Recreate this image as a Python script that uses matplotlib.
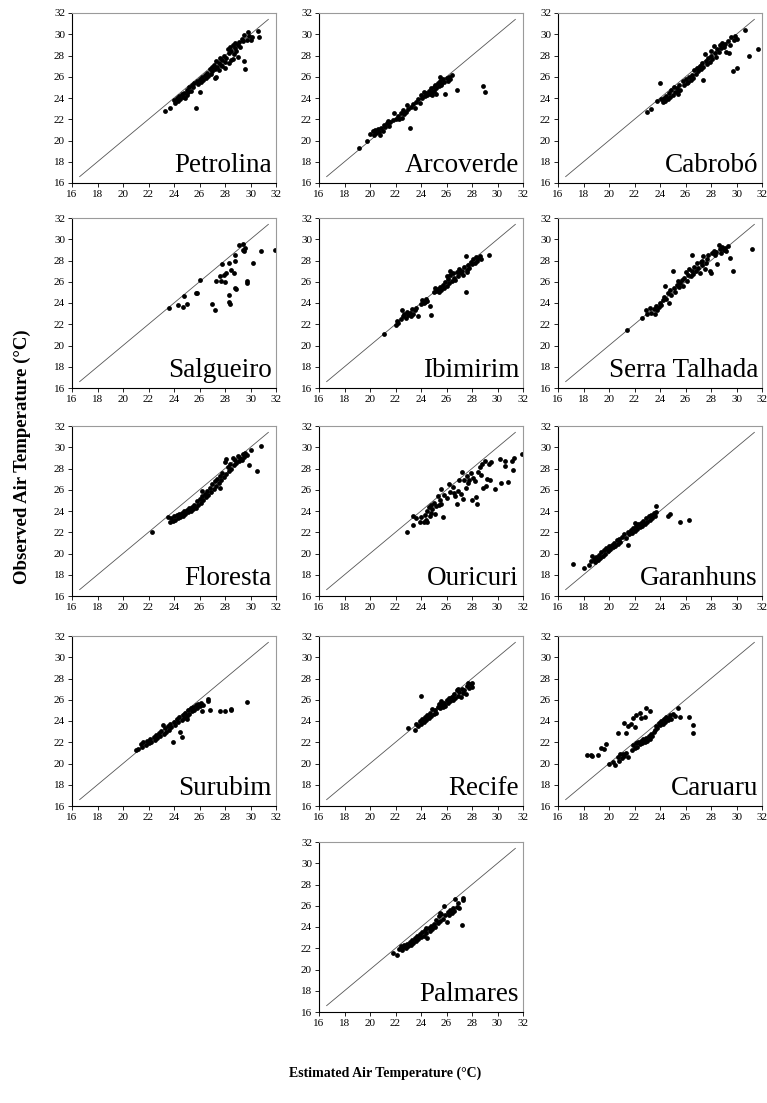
import matplotlib.pyplot as plt

plt.switch_backend('Agg')
plt.rcParams['font.family'] = ['Liberation Serif', 'DejaVu Serif']

# estimated (x) vs observed (y) air temperature
pet_est = [23.3, 23.7, 24.0, 24.1, 24.2, 24.3, 24.4, 24.5, 24.6, 24.7,
           24.8, 24.9, 25.0, 25.0, 25.1, 25.2, 25.3, 25.4, 25.5, 25.6,
           25.7, 25.8, 25.9, 26.0, 26.0, 26.1, 26.2, 26.3, 26.4, 26.5,
           26.6, 26.7, 26.8, 26.9, 27.0, 27.0, 27.1, 27.2, 27.2, 27.3,
           27.4, 27.5, 27.5, 27.6, 27.7, 27.8, 27.8, 27.9, 28.0, 28.0,
           28.1, 28.2, 28.3, 28.3, 28.4, 28.5, 28.5, 28.6, 28.7, 28.8,
           28.8, 28.9, 29.0, 29.0, 29.1, 29.2, 29.3, 29.4, 29.5, 29.6,
           29.5, 29.7, 29.8, 30.0, 30.1, 30.6, 30.7, 29.9, 28.6, 27.3]
pet_obs = [22.8, 23.1, 23.8, 23.5, 24.0, 23.7, 24.2, 23.9, 24.4, 24.1,
           24.5, 24.0, 24.8, 24.3, 24.6, 25.0, 24.7, 25.2, 25.0, 25.4,
           23.1, 25.6, 25.3, 24.6, 25.8, 25.5, 26.0, 25.7, 26.2, 25.9,
           26.4, 26.1, 26.7, 26.3, 26.9, 26.5, 27.1, 25.9, 26.7, 27.5,
           26.9, 27.3, 26.6, 27.8, 27.1, 27.6, 27.0, 28.0, 27.4, 26.8,
           27.8, 28.6, 27.3, 28.2, 28.8, 27.6, 28.4, 29.0, 28.1, 28.7,
           29.2, 28.4, 29.0, 27.9, 29.3, 28.8, 29.6, 29.4, 27.5, 26.7,
           29.9, 29.5, 30.2, 29.5, 29.7, 30.3, 29.7, 29.8, 27.7, 26.0]

arc_est = [19.1, 19.8, 20.0, 20.2, 20.3, 20.4, 20.5, 20.6, 20.7, 20.8,
           20.9, 21.0, 21.1, 21.2, 21.3, 21.5, 21.6, 21.8, 21.9, 22.0,
           22.2, 22.3, 22.4, 22.5, 22.6, 22.7, 22.9, 23.0, 23.1, 23.2,
           23.4, 23.5, 23.6, 23.8, 23.9, 24.0, 24.1, 24.2, 24.3, 24.4,
           24.5, 24.6, 24.7, 24.8, 24.9, 25.0, 25.0, 25.1, 25.2, 25.3,
           25.4, 25.5, 25.5, 25.6, 25.7, 25.8, 25.9, 26.0, 26.1, 26.2,
           26.4, 26.3, 26.8, 28.9, 29.0, 25.2, 24.9, 21.4, 22.8, 25.6]
arc_obs = [19.3, 20.0, 20.6, 20.9, 20.5, 21.0, 20.7, 21.1, 20.8, 20.5,
           21.2, 20.9, 21.5, 21.3, 21.6, 21.4, 21.7, 21.9, 22.6, 22.0,
           22.3, 22.0, 22.6, 22.1, 22.9, 22.5, 23.3, 23.0, 21.2, 23.2,
           23.4, 23.1, 23.6, 23.9, 23.5, 24.3, 24.0, 24.6, 24.2, 24.5,
           24.3, 24.7, 24.4, 24.9, 24.6, 25.0, 24.7, 25.2, 24.9, 25.4,
           25.1, 25.6, 26.0, 25.3, 25.8, 25.5, 24.4, 25.9, 25.6, 26.0,
           26.2, 25.8, 24.8, 25.1, 24.6, 24.4, 24.3, 21.8, 22.7, 25.2]

cab_est = [23.0, 23.3, 23.8, 24.0, 24.1, 24.2, 24.3, 24.4, 24.5, 24.6,
           24.7, 24.8, 24.9, 25.0, 25.1, 25.2, 25.3, 25.4, 25.5, 25.6,
           25.8, 25.9, 26.0, 26.2, 26.3, 26.4, 26.5, 26.6, 26.7, 26.8,
           26.9, 27.0, 27.1, 27.2, 27.3, 27.4, 27.4, 27.5, 27.6, 27.7,
           27.8, 27.9, 28.0, 28.1, 28.2, 28.3, 28.4, 28.5, 28.6, 28.7,
           28.8, 28.9, 29.0, 29.1, 29.2, 29.3, 29.5, 29.6, 29.7, 29.8,
           29.9, 30.0, 30.0, 30.7, 31.0, 31.7, 29.4, 28.0, 25.4, 26.1]
cab_obs = [22.7, 23.0, 23.7, 25.4, 23.9, 23.6, 24.0, 23.7, 24.2, 23.9,
           24.5, 24.1, 24.8, 24.3, 25.0, 24.6, 24.9, 24.4, 25.2, 24.8,
           25.6, 25.2, 25.8, 25.5, 26.0, 25.7, 26.2, 25.9, 26.6, 26.3,
           26.8, 26.5, 27.0, 26.7, 27.3, 25.7, 26.9, 28.1, 27.5, 27.2,
           27.8, 27.4, 28.0, 27.7, 28.9, 28.2, 27.9, 28.6, 28.3, 29.0,
           28.7, 29.2, 28.8, 29.1, 28.3, 29.4, 29.0, 29.7, 26.5, 29.5,
           29.8, 29.6, 26.8, 30.4, 28.0, 28.6, 28.2, 28.4, 24.7, 25.4]

sal_est = [23.6, 24.3, 24.7, 24.8, 25.0, 25.7, 25.8, 26.05, 27.0, 27.2,
           27.3, 27.6, 27.7, 27.8, 27.9, 28.0, 28.1, 28.3, 28.3, 28.4,
           28.35, 28.5, 28.7, 28.8, 28.8, 28.8, 28.85, 29.1, 29.4, 29.4,
           29.6, 29.7, 29.7, 30.2, 30.8, 31.9, 29.5]
sal_obs = [23.5, 23.8, 23.6, 24.7, 23.9, 24.9, 24.9, 26.2, 23.9, 23.3,
           26.1, 26.5, 26.1, 27.7, 26.6, 26.0, 26.8, 27.8, 24.8, 23.9,
           24.1, 27.1, 26.8, 28.5, 28.0, 25.4, 25.3, 29.5, 29.0, 29.6,
           29.2, 26.1, 25.9, 27.8, 28.9, 29.0, 28.9]

ibi_est = [21.1, 22.0, 22.1, 22.2, 22.4, 22.5, 22.6, 22.7, 22.8, 22.9,
           23.0, 23.1, 23.2, 23.3, 23.4, 23.5, 23.6, 23.8, 24.0, 24.1,
           24.2, 24.4, 24.5, 24.7, 24.8, 25.0, 25.1, 25.2, 25.3, 25.5,
           25.6, 25.7, 25.8, 25.9, 26.0, 26.1, 26.2, 26.3, 26.4, 26.5,
           26.6, 26.7, 26.8, 26.9, 27.0, 27.1, 27.2, 27.3, 27.4, 27.5,
           27.5, 27.6, 27.7, 27.8, 27.9, 28.0, 28.1, 28.2, 28.3, 28.4,
           28.5, 28.6, 29.3, 26.3, 26.0, 27.0, 25.4, 24.3, 28.7, 27.6]
ibi_obs = [21.1, 21.9, 22.3, 22.1, 22.5, 23.3, 22.8, 23.0, 22.6, 23.2,
           22.9, 23.1, 22.8, 23.4, 23.0, 23.3, 23.5, 22.8, 23.9, 24.3,
           24.0, 24.4, 24.2, 23.7, 22.9, 25.0, 25.4, 25.1, 25.3, 25.5,
           25.2, 25.7, 25.4, 26.0, 25.6, 26.3, 25.9, 26.6, 26.1, 26.8,
           26.4, 26.2, 26.9, 26.5, 27.2, 26.8, 27.0, 26.6, 27.4, 25.0,
           28.4, 27.1, 27.6, 27.3, 27.9, 27.7, 28.1, 27.8, 28.3, 28.0,
           28.2, 28.4, 28.5, 27.0, 26.5, 26.9, 25.0, 24.1, 28.1, 26.9]

ser_est = [21.4, 22.6, 22.9, 23.0, 23.2, 23.3, 23.5, 23.6, 23.7, 23.8,
           23.9, 24.0, 24.1, 24.2, 24.3, 24.4, 24.5, 24.6, 24.7, 24.8,
           24.9, 25.0, 25.1, 25.2, 25.3, 25.4, 25.5, 25.6, 25.7, 25.8,
           25.9, 26.0, 26.1, 26.2, 26.3, 26.4, 26.5, 26.5, 26.6, 26.7,
           26.8, 26.9, 27.0, 27.1, 27.2, 27.3, 27.4, 27.5, 27.6, 27.7,
           27.8, 27.9, 28.0, 28.1, 28.2, 28.3, 28.4, 28.5, 28.6, 28.7,
           28.8, 28.9, 29.0, 29.1, 29.2, 29.3, 29.5, 29.7, 31.2, 27.3]
ser_obs = [21.5, 22.6, 23.3, 23.0, 23.5, 23.1, 23.4, 23.0, 23.7, 23.3,
           23.6, 24.0, 23.8, 24.3, 24.6, 25.6, 24.4, 24.9, 24.0, 25.2,
           24.8, 27.0, 25.4, 25.0, 25.7, 26.1, 25.5, 25.9, 26.2, 25.6,
           26.4, 26.9, 26.1, 26.6, 27.2, 26.5, 28.5, 27.0, 26.7, 27.4,
           27.0, 27.8, 27.3, 26.8, 27.9, 27.6, 28.4, 27.2, 27.8, 28.1,
           28.5, 27.0, 26.8, 28.7, 28.9, 28.5, 28.8, 27.7, 29.5, 29.1,
           28.7, 29.3, 29.0, 29.2, 28.9, 29.4, 28.2, 27.0, 29.1, 28.0]

flo_est = [22.3, 23.5, 23.7, 23.8, 23.9, 24.0, 24.1, 24.2, 24.3, 24.4,
           24.5, 24.6, 24.7, 24.8, 24.9, 25.0, 25.1, 25.2, 25.3, 25.4,
           25.5, 25.6, 25.7, 25.8, 25.9, 26.0, 26.1, 26.2, 26.3, 26.4,
           26.5, 26.6, 26.7, 26.8, 26.9, 27.0, 27.1, 27.2, 27.3, 27.4,
           27.5, 27.6, 27.7, 27.8, 27.9, 28.0, 28.1, 28.2, 28.3, 28.4,
           28.5, 28.6, 28.7, 28.8, 28.9, 29.0, 29.1, 29.2, 29.3, 29.4,
           29.5, 29.6, 29.7, 29.9, 30.0, 30.5, 30.8, 27.6, 26.2, 28.1]
flo_obs = [22.0, 23.4, 23.0, 23.3, 23.1, 23.5, 23.2, 23.6, 23.3, 23.7,
           23.4, 23.8, 23.5, 24.0, 23.7, 24.1, 23.9, 24.3, 24.0, 24.4,
           24.2, 24.6, 24.3, 24.9, 24.6, 25.1, 24.8, 25.4, 25.0, 25.6,
           25.3, 25.9, 25.5, 26.2, 25.8, 26.5, 26.1, 26.8, 26.4, 27.0,
           26.6, 27.3, 26.9, 27.6, 27.2, 28.6, 27.5, 28.1, 27.8, 28.4,
           28.0, 29.0, 28.3, 28.8, 28.5, 29.2, 28.7, 29.0, 28.8, 29.4,
           29.1, 29.5, 29.3, 28.3, 29.7, 27.8, 30.1, 26.2, 25.9, 28.9]

our_est = [22.9, 23.4, 23.4, 23.6, 23.9, 24.0, 24.2, 24.3, 24.4, 24.5,
           24.5, 24.6, 24.7, 24.8, 24.8, 24.9, 25.0, 25.1, 25.2, 25.3,
           25.4, 25.5, 25.6, 25.6, 25.7, 25.8, 26.0, 26.2, 26.3, 26.5,
           26.6, 26.7, 26.8, 26.9, 27.0, 27.1, 27.2, 27.3, 27.4, 27.5,
           27.6, 27.7, 27.8, 27.9, 28.0, 28.1, 28.2, 28.3, 28.4, 28.5,
           28.6, 28.7, 28.8, 28.9, 29.0, 29.1, 29.2, 29.3, 29.4, 29.5,
           29.8, 30.2, 30.3, 30.6, 30.6, 30.8, 31.1, 31.2, 31.3, 31.9]
our_obs = [22.0, 23.5, 22.7, 23.3, 23.0, 23.4, 23.0, 23.6, 23.2, 24.0,
           23.0, 24.4, 23.5, 24.6, 23.8, 24.2, 24.8, 23.7, 24.5, 25.4,
           24.6, 25.0, 26.1, 24.7, 23.4, 25.5, 25.2, 26.5, 25.8, 26.3,
           25.7, 25.4, 24.7, 25.9, 26.9, 25.6, 27.7, 25.1, 26.9, 26.2,
           27.3, 26.6, 26.9, 27.6, 25.0, 27.1, 26.8, 25.3, 24.7, 27.7,
           28.1, 27.4, 28.4, 26.2, 28.7, 26.4, 27.0, 28.4, 26.9, 28.6,
           26.1, 28.9, 26.6, 28.7, 28.2, 26.7, 28.7, 27.9, 29.0, 29.4]

gar_est = [17.2, 18.0, 18.4, 18.6, 18.7, 18.8, 18.9, 19.0, 19.1, 19.2,
           19.3, 19.4, 19.5, 19.6, 19.7, 19.8, 19.9, 20.0, 20.1, 20.2,
           20.3, 20.4, 20.5, 20.6, 20.7, 20.8, 20.9, 21.0, 21.2, 21.3,
           21.5, 21.5, 21.6, 21.7, 21.8, 21.9, 22.0, 22.1, 22.2, 22.3,
           22.4, 22.5, 22.6, 22.7, 22.8, 22.9, 23.0, 23.1, 23.2, 23.3,
           23.4, 23.5, 23.6, 23.7, 23.7, 24.6, 24.8, 25.6, 26.3, 22.0]
gar_obs = [19.0, 18.6, 18.9, 19.3, 19.8, 19.5, 19.2, 19.7, 19.4, 19.9,
           19.6, 20.1, 19.8, 20.3, 20.0, 20.5, 20.2, 20.7, 20.4, 20.8,
           20.6, 21.0, 20.7, 21.3, 20.9, 21.4, 21.1, 21.6, 21.8, 21.5,
           22.0, 20.8, 21.8, 22.2, 21.9, 22.4, 22.1, 22.6, 22.3, 22.8,
           22.5, 22.9, 22.6, 23.1, 22.8, 23.3, 23.0, 23.5, 23.2, 23.6,
           23.3, 23.8, 23.5, 24.5, 23.9, 23.5, 23.7, 23.0, 23.2, 22.9]

sur_est = [21.0, 21.2, 21.4, 21.5, 21.6, 21.8, 21.9, 22.0, 22.1, 22.2,
           22.4, 22.5, 22.6, 22.7, 22.8, 22.9, 23.0, 23.1, 23.2, 23.3,
           23.4, 23.5, 23.6, 23.7, 23.8, 23.9, 24.0, 24.1, 24.2, 24.3,
           24.4, 24.5, 24.6, 24.6, 24.7, 24.8, 24.9, 25.0, 25.1, 25.2,
           25.3, 25.4, 25.5, 25.6, 25.7, 25.8, 25.9, 26.0, 26.1, 26.2,
           26.3, 26.7, 26.7, 26.8, 27.6, 28.0, 28.5, 28.5, 29.7, 25.0]
sur_obs = [21.3, 21.4, 21.8, 21.6, 22.0, 21.7, 22.1, 21.9, 22.3, 22.0,
           22.5, 22.2, 22.7, 22.4, 22.9, 22.6, 23.1, 23.6, 22.8, 23.3,
           23.0, 23.5, 23.2, 23.7, 23.4, 22.0, 23.9, 23.6, 24.2, 23.9,
           24.4, 23.0, 22.5, 24.1, 24.6, 24.3, 24.8, 24.5, 25.0, 24.7,
           25.2, 24.9, 25.3, 25.0, 25.5, 25.2, 25.6, 25.4, 25.7, 24.9,
           25.5, 26.1, 25.9, 25.0, 24.9, 24.9, 25.1, 25.0, 25.8, 24.2]

rec_est = [23.0, 23.5, 23.6, 23.8, 23.9, 24.0, 24.0, 24.1, 24.2, 24.3,
           24.4, 24.5, 24.6, 24.7, 24.8, 24.9, 25.0, 25.1, 25.2, 25.3,
           25.4, 25.5, 25.6, 25.7, 25.8, 25.9, 26.0, 26.1, 26.2, 26.3,
           26.4, 26.5, 26.6, 26.7, 26.8, 26.9, 27.0, 27.1, 27.2, 27.3,
           27.4, 27.5, 27.6, 27.7, 27.8, 27.9, 28.0, 28.0, 26.9, 25.6]
rec_obs = [23.3, 23.2, 23.7, 23.5, 24.0, 23.7, 26.4, 24.2, 23.9, 24.4,
           24.1, 24.6, 24.3, 24.8, 24.5, 25.1, 24.7, 25.0, 24.8, 25.3,
           25.6, 25.2, 25.5, 25.3, 25.7, 25.4, 26.0, 25.7, 26.2, 25.9,
           26.3, 26.0, 26.5, 26.2, 26.9, 26.4, 26.7, 26.3, 27.0, 26.6,
           26.9, 26.5, 27.3, 27.6, 27.1, 27.5, 27.6, 27.2, 27.0, 25.9]

car_est = [20.0, 20.3, 20.5, 20.7, 20.8, 20.9, 21.0, 21.1, 21.2, 21.3,
           21.5, 21.8, 21.9, 22.0, 22.1, 22.2, 22.3, 22.4, 22.5, 22.6,
           22.7, 22.8, 22.9, 23.0, 23.1, 23.2, 23.3, 23.4, 23.5, 23.6,
           23.7, 23.8, 23.9, 24.0, 24.1, 24.2, 24.3, 24.4, 24.5, 24.6,
           24.7, 24.8, 24.9, 25.0, 25.2, 25.4, 25.6, 26.3, 26.6, 26.6,
           18.3, 18.7, 19.1, 19.4, 19.8, 20.7, 21.2, 21.3, 21.7, 21.9,
           22.0, 22.1, 22.4, 22.5, 22.8, 22.9, 23.2, 19.6, 21.5, 18.6]
car_obs = [20.0, 20.1, 19.9, 20.6, 20.2, 20.9, 20.5, 20.9, 20.7, 21.0,
           20.6, 21.3, 21.7, 21.5, 21.9, 21.6, 22.0, 21.8, 22.1, 21.9,
           22.3, 22.0, 22.4, 22.1, 22.6, 22.3, 22.8, 22.6, 23.0, 23.2,
           23.5, 23.3, 23.8, 23.6, 24.0, 23.7, 24.2, 23.9, 24.4, 24.1,
           24.3, 24.6, 24.2, 24.7, 24.5, 25.2, 24.4, 24.4, 23.6, 22.9,
           20.8, 20.7, 20.8, 21.5, 21.8, 22.9, 23.8, 22.9, 23.7, 24.3,
           23.4, 24.6, 24.8, 24.3, 24.4, 25.2, 24.9, 21.4, 23.5, 20.8]

pal_est = [21.8, 22.1, 22.3, 22.4, 22.5, 22.6, 22.7, 22.8, 22.9, 23.0,
           23.1, 23.2, 23.3, 23.4, 23.5, 23.6, 23.7, 23.8, 23.9, 24.0,
           24.1, 24.2, 24.3, 24.4, 24.5, 24.6, 24.7, 24.8, 24.9, 25.0,
           25.1, 25.2, 25.3, 25.4, 25.5, 25.6, 25.7, 25.8, 25.9, 26.0,
           26.1, 26.2, 26.3, 26.4, 26.5, 26.6, 26.7, 26.8, 27.0, 27.2,
           27.3, 27.3, 26.9, 25.5, 24.4]
pal_obs = [21.6, 21.4, 21.9, 22.2, 21.8, 22.1, 22.3, 22.0, 22.4, 22.2,
           22.6, 22.3, 22.8, 22.5, 23.0, 22.7, 23.2, 22.9, 23.3, 23.1,
           23.5, 23.2, 23.7, 23.4, 23.0, 23.9, 23.6, 24.1, 23.8, 24.3,
           24.0, 24.7, 24.4, 25.0, 24.6, 25.2, 24.8, 26.0, 25.1, 24.5,
           25.4, 25.1, 25.6, 25.3, 25.8, 25.5, 26.6, 25.9, 25.8, 24.2,
           26.7, 26.5, 26.3, 25.3, 23.9]

stations = ["Petrolina", "Arcoverde", "Cabrobó",
            "Salgueiro", "Ibimirim", "Serra Talhada",
            "Floresta", "Ouricuri", "Garanhuns",
            "Surubim", "Recife", "Caruaru",
            "Palmares"]
est_data = [pet_est, arc_est, cab_est, sal_est, ibi_est, ser_est,
            flo_est, our_est, gar_est, sur_est, rec_est, car_est, pal_est]
obs_data = [pet_obs, arc_obs, cab_obs, sal_obs, ibi_obs, ser_obs,
            flo_obs, our_obs, gar_obs, sur_obs, rec_obs, car_obs, pal_obs]
ticks = [16, 18, 20, 22, 24, 26, 28, 30, 32]

W, H = 767, 1103
fig = plt.figure(figsize=(W / 100, H / 100), dpi=100)

# panel positions in pixels (left, top)
col_left = [72, 319, 558]
row_top = [13, 218, 426, 636, 842]
pw, ph = 204, 170

for i, name in enumerate(stations):
    if i < 12:
        r, c = divmod(i, 3)
    else:
        r, c = 4, 1
    left = col_left[c]
    top = row_top[r]
    ax = fig.add_axes([left / W, 1 - (top + ph) / H, pw / W, ph / H])

    ax.plot([16.6, 31.4], [16.6, 31.4], color='#555555', lw=0.6, zorder=1)
    ax.scatter(est_data[i], obs_data[i], s=12, color='black', linewidths=0, zorder=2)

    ax.set_xlim(16, 32)
    ax.set_ylim(16, 32)
    ax.set_xticks(ticks)
    ax.set_yticks(ticks)
    ax.tick_params(direction='out', length=3, width=0.6, labelsize=8, pad=2)
    for side in ['left', 'bottom']:
        ax.spines[side].set_color('black')
        ax.spines[side].set_linewidth(0.8)
    for side in ['top', 'right']:
        ax.spines[side].set_color('#9a9a9a')
        ax.spines[side].set_linewidth(0.8)

    ax.text(0.98, 0.065, name, transform=ax.transAxes, ha='right', va='baseline',
            fontsize=19.5)

fig.text(22 / W, 1 - 457 / H, "Observed Air Temperature (°C)", rotation=90,
         ha='center', va='center', fontsize=13.5, fontweight='bold')
fig.text(385 / W, 1 - 1073 / H, "Estimated Air Temperature (°C)",
         ha='center', va='center', fontsize=10, fontweight='bold')

fig.savefig("out.png", dpi=100)
